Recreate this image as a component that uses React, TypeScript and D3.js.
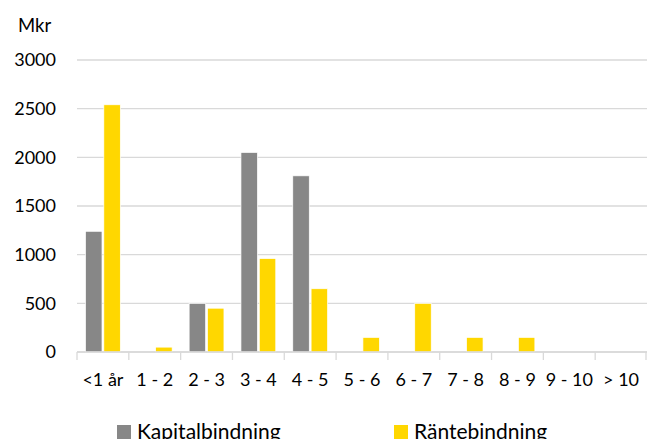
import * as d3 from 'd3';

const WIDTH = 647;
const HEIGHT = 439;
const MARGINS = { top: 60, right: 0, bottom: 87, left: 77 };

const categories = ['<1 år', '1 - 2', '2 - 3', '3 - 4', '4 - 5', '5 - 6', '6 - 7', '7 - 8', '8 - 9', '9 - 10', '> 10'];
const kapitalbindning = [1240, 0, 500, 2050, 1810, 0, 0, 0, 0, 0, 0];
const rantebindning = [2540, 50, 450, 960, 650, 150, 500, 150, 150, 0, 0];
const seriesNames = ['Kapitalbindning', 'Räntebindning'];
const seriesColors = ['#878787', '#FFD700'];
const yTicks = [0, 500, 1000, 1500, 2000, 2500, 3000];

const FONT = 'Lato, "Open Sans", sans-serif';

export default function App() {
  const innerW = WIDTH - MARGINS.left - MARGINS.right;
  const innerH = HEIGHT - MARGINS.top - MARGINS.bottom;

  const x = d3.scaleBand<string>().domain(categories).range([0, innerW]);
  // bars sit inside the band with ~8px of space on each side
  const x1 = d3
    .scaleBand<string>()
    .domain(seriesNames)
    .range([8.5, x.bandwidth() - 8.5])
    .paddingInner(0.1);
  const y = d3.scaleLinear().domain([0, 3000]).range([innerH, 0]);

  const series = [kapitalbindning, rantebindning];

  return (
    <div style={{ position: 'absolute', left: 0, top: 0 }}>
      <svg width={WIDTH} height={HEIGHT} style={{ display: 'block', fontFamily: FONT }}>
        <text x={18} y={32} fontSize={18.5} fill='#000'>
          Mkr
        </text>
        <g transform={`translate(${MARGINS.left},${MARGINS.top})`}>
          {yTicks.map((t) => (
            <g key={t}>
              <line x1={0} x2={innerW} y1={y(t)} y2={y(t)} stroke='#d9d9d9' strokeWidth={1.3} />
              <text x={-21} y={y(t)} dy='0.36em' textAnchor='end' fontSize={18} fill='#000'>
                {t}
              </text>
            </g>
          ))}
          {categories.map((c, i) => (
            <g key={c}>
              {series.map((vals, s) =>
                vals[i] > 0 ? (
                  <rect
                    key={s}
                    x={(x(c) ?? 0) + (x1(seriesNames[s]) ?? 0)}
                    y={y(vals[i])}
                    width={x1.bandwidth()}
                    height={innerH - y(vals[i])}
                    fill={seriesColors[s]}
                    stroke='#fff'
                    strokeWidth={0.7}
                  />
                ) : null,
              )}
              <line
                x1={x(c) ?? 0}
                x2={x(c) ?? 0}
                y1={innerH}
                y2={innerH + 8}
                stroke='#d9d9d9'
                strokeWidth={1.3}
              />
              <text
                x={(x(c) ?? 0) + x.bandwidth() / 2}
                y={innerH + 34}
                textAnchor='middle'
                fontSize={18}
                fill='#000'
              >
                {c}
              </text>
            </g>
          ))}
          <line x1={innerW - 1} x2={innerW - 1} y1={innerH} y2={innerH + 8} stroke='#d9d9d9' strokeWidth={1.3} />
          <line x1={0} x2={innerW} y1={innerH} y2={innerH} stroke='#d9d9d9' strokeWidth={1.3} />
        </g>
        {seriesNames.map((name, s) => (
          <g key={name} transform={`translate(${117 + s * 277},425)`}>
            <rect x={0} y={0} width={14} height={14} fill={seriesColors[s]} />
            <text x={20} y={14} fontSize={21} fill='#000'>
              {name}
            </text>
          </g>
        ))}
      </svg>
    </div>
  );
}
